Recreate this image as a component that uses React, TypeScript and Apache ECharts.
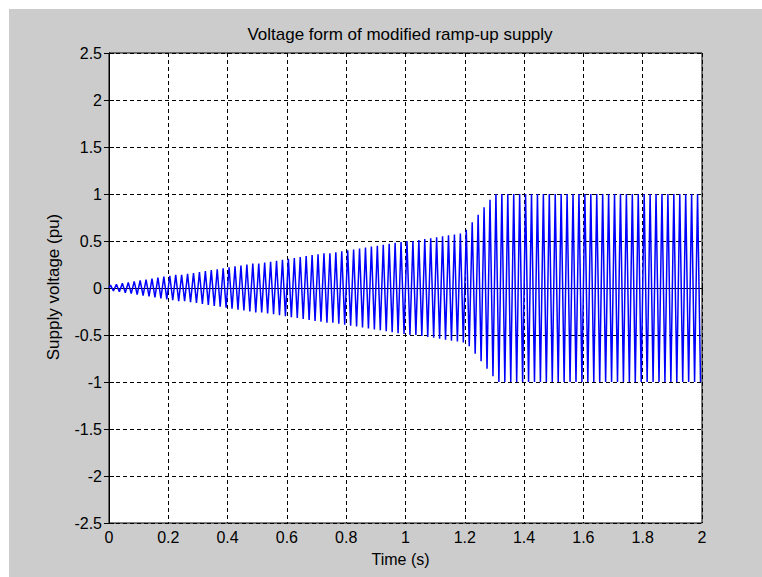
import React, { useEffect, useRef } from "react";
import * as echarts from "echarts";

// Axis ranges and tick spacing
const xMin = 0;
const xMax = 2;
const xStep = 0.2;
const yMin = -2.5;
const yMax = 2.5;
const yStep = 0.5;

// Supply frequency (Hz): one cycle every 0.02 s
const supplyFrequency = 50;

// Peak amplitude (pu) of each of the 100 cycles, read from the envelope
const cycleAmplitudes = [
  0.03, 0.04, 0.05, 0.06, 0.07, 0.08, 0.09, 0.1, 0.11, 0.12,
  0.13, 0.14, 0.14, 0.15, 0.16, 0.17, 0.18, 0.19, 0.2, 0.21,
  0.22, 0.23, 0.24, 0.25, 0.26, 0.26, 0.27, 0.28, 0.29, 0.3,
  0.31, 0.32, 0.33, 0.34, 0.35, 0.36, 0.37, 0.37, 0.38, 0.39,
  0.4, 0.41, 0.42, 0.43, 0.44, 0.45, 0.46, 0.47, 0.48, 0.49,
  0.5, 0.5, 0.51, 0.52, 0.53, 0.54, 0.55, 0.56, 0.57, 0.58,
  0.62, 0.7, 0.78, 0.86, 0.94, 1.0, 1.0, 1.0, 1.0, 1.0,
  1.0, 1.0, 1.0, 1.0, 1.0, 1.0, 1.0, 1.0, 1.0, 1.0,
  1.0, 1.0, 1.0, 1.0, 1.0, 1.0, 1.0, 1.0, 1.0, 1.0,
  1.0, 1.0, 1.0, 1.0, 1.0, 1.0, 1.0, 1.0, 1.0, 1.0,
];

const titleText = "Voltage form of modified ramp-up supply";
const xName = "Time (s)";
const yName = "Supply voltage (pu)";

const FONT = "'Liberation Sans', Arial, Helvetica, sans-serif";

export default function App() {
  const ref = useRef<HTMLDivElement>(null);

  useEffect(() => {
    if (!ref.current) return;
    const chart = echarts.init(ref.current, undefined, { renderer: "svg" });

    const points: [number, number][] = [[0, 0]];
    cycleAmplitudes.forEach((a, k) => {
      points.push([(k + 0.25) / supplyFrequency, a]);
      points.push([(k + 0.75) / supplyFrequency, -a]);
    });

    const gridLeft = 100;
    const gridTop = 44;
    const gridWidth = 593;
    const gridHeight = 470;

    const splitLine = {
      show: true,
      lineStyle: { color: "#000", width: 1, type: [4, 3] as any },
    };
    const axisLine = { show: true, lineStyle: { color: "#000", width: 1 } };
    const axisTick = {
      show: true,
      inside: true,
      length: 5,
      lineStyle: { color: "#000", width: 1 },
    };
    const labelStyle = { color: "#000", fontSize: 16, fontFamily: FONT };

    chart.setOption({
      animation: false,
      backgroundColor: "#cccccc",
      grid: {
        left: gridLeft,
        top: gridTop,
        width: gridWidth,
        height: gridHeight,
        show: true,
        backgroundColor: "#ffffff",
        borderColor: "#000",
        borderWidth: 1,
        containLabel: false,
      },
      xAxis: [
        {
          type: "value",
          min: xMin,
          max: xMax,
          interval: xStep,
          position: "bottom",
          axisLine,
          axisTick,
          splitLine,
          axisLabel: { ...labelStyle, margin: 6 },
        },
        {
          type: "value",
          min: xMin,
          max: xMax,
          interval: xStep,
          position: "top",
          axisLine,
          axisTick,
          splitLine: { show: false },
          axisLabel: { show: false },
        },
      ],
      yAxis: [
        {
          type: "value",
          min: yMin,
          max: yMax,
          interval: yStep,
          position: "left",
          axisLine,
          axisTick,
          splitLine,
          axisLabel: { ...labelStyle, margin: 7 },
        },
        {
          type: "value",
          min: yMin,
          max: yMax,
          interval: yStep,
          position: "right",
          axisLine,
          axisTick,
          splitLine: { show: false },
          axisLabel: { show: false },
        },
      ],
      graphic: [
        {
          type: "text",
          x: 391,
          y: 25,
          style: {
            text: titleText,
            fontSize: 17,
            fontFamily: FONT,
            fill: "#000",
            textAlign: "center",
            textVerticalAlign: "middle",
          },
        },
        {
          type: "text",
          x: 391.5,
          y: 550,
          style: {
            text: xName,
            fontSize: 16,
            fontFamily: FONT,
            fill: "#000",
            textAlign: "center",
            textVerticalAlign: "middle",
          },
        },
        {
          type: "text",
          x: 44,
          y: 278,
          rotation: Math.PI / 2,
          style: {
            text: yName,
            fontSize: 17,
            fontFamily: FONT,
            fill: "#000",
            textAlign: "center",
            textVerticalAlign: "middle",
          },
        },
      ],
      series: [
        {
          type: "line",
          xAxisIndex: 0,
          yAxisIndex: 0,
          data: points,
          showSymbol: false,
          symbol: "none",
          lineStyle: { color: "#0000ff", width: 1.5 },
          itemStyle: { color: "#0000ff" },
          z: 3,
        },
      ],
    });

    return () => {
      chart.dispose();
    };
  }, []);

  return (
    <div
      ref={ref}
      style={{ position: "absolute", left: 9, top: 9, width: 753, height: 568 }}
    />
  );
}
